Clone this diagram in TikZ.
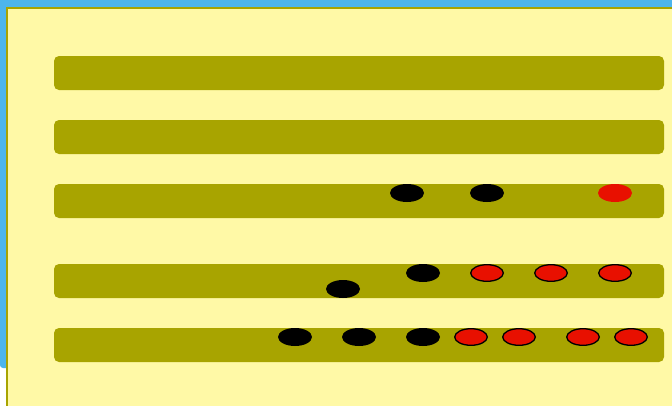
\documentclass[tikz,border=0pt]{standalone}
\definecolor{skyb}{HTML}{4DB5EC}
\definecolor{paper}{HTML}{FFF9A6}
\definecolor{olive}{HTML}{A8A400}
\definecolor{bead}{HTML}{E81000}
\begin{document}
\begin{tikzpicture}[x=1pt,y=-1pt,
  bar/.style={fill=olive,rounded corners=5pt},
  blk/.style={fill=black,draw=none},
  redp/.style={fill=bead,draw=none},
  redo/.style={fill=bead,draw=black,line width=1.3pt}]
\useasboundingbox (0,0) rectangle (672,405);
\fill[white] (0,0) rectangle (672,405);
\fill[skyb,rounded corners=3pt] (0,-5) rectangle (672,368);
\fill[olive] (6,7) rectangle (680,410);
\fill[paper] (8,9) rectangle (680,410);
% bars
\foreach \y [count=\i] in {56,120,184,264,328}
  \path[bar] (54,\y) rectangle (664,\y+34) coordinate (bar\i);
% row 3
\fill[blk] (407,193) ellipse [x radius=17, y radius=9];
\fill[blk] (487,193) ellipse [x radius=17, y radius=9];
\fill[redp] (615,193) ellipse [x radius=17, y radius=9];
% row 4
\fill[blk] (343,289) ellipse [x radius=17, y radius=9];
\fill[blk] (423,273) ellipse [x radius=17, y radius=9];
\foreach \x in {487,551,615}
  \filldraw[redo] (\x,273) ellipse [x radius=16.3, y radius=8.3];
% row 5
\foreach \x in {295,359,423}
  \fill[blk] (\x,337) ellipse [x radius=17, y radius=9];
\foreach \x in {471,519,583,631}
  \filldraw[redo] (\x,337) ellipse [x radius=16.3, y radius=8.3];
\end{tikzpicture}
\end{document}
